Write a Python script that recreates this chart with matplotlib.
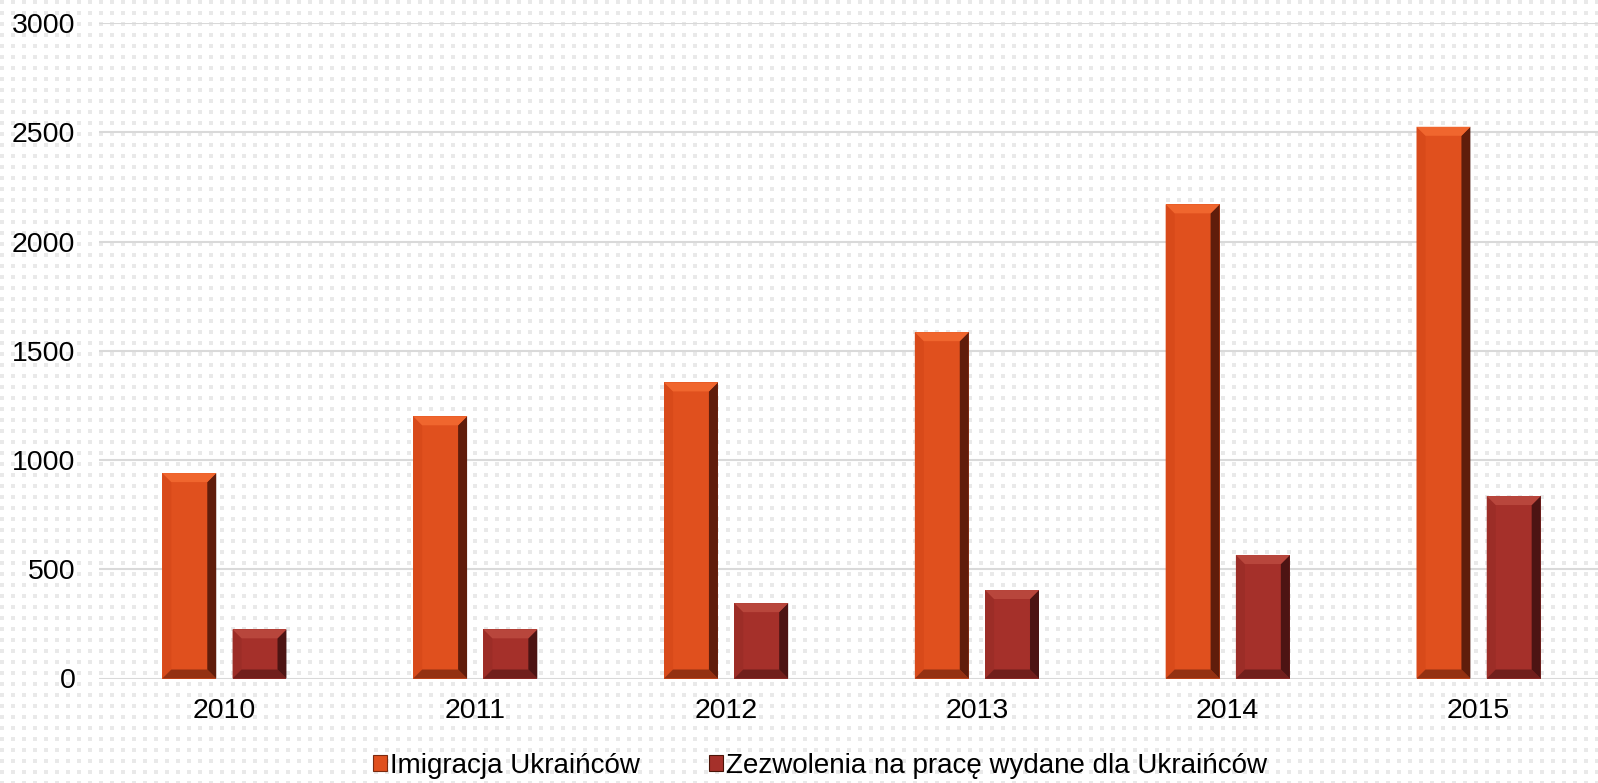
import numpy as np
import matplotlib
matplotlib.use("Agg")
import matplotlib.pyplot as plt
from matplotlib.patches import Patch, Polygon

# data
years = ["2010", "2011", "2012", "2013", "2014", "2015"]
imigracja = [940, 1200, 1355, 1585, 2170, 2525]
zezwolenia = [225, 225, 345, 405, 565, 835]
series_names = ["Imigracja Ukraińców", "Zezwolenia na pracę wydane dla Ukraińców"]
y_ticks = [0, 500, 1000, 1500, 2000, 2500, 3000]

plt.rcParams["font.family"] = ["Liberation Sans", "DejaVu Sans"]

W, H = 1598, 783
fig = plt.figure(figsize=(W / 100, H / 100), dpi=100)
fig.patch.set_facecolor("white")

# dotted background texture
yy, xx = np.mgrid[0:H, 0:W]
dots = ((yy % 11) < 4) & ((xx % 11) < 4)
bg = np.ones((H, W, 3))
bg[dots] = 0.915
fig.figimage(bg, 0, 0, zorder=-10)

ax = fig.add_axes([99 / W, (H - 678.5) / H, 1505 / W, (678.5 - 23) / H])
ax.patch.set_alpha(0)
ax.set_xlim(-0.5, 5.5)
ax.set_ylim(0, 3000)

x = np.arange(len(years))
bw = 0.215
off = 0.14
c1, c2 = "#e0501e", "#a5302a"

bars1 = ax.bar(x - off, imigracja, bw, color=c1, zorder=3)
bars2 = ax.bar(x + off, zezwolenia, bw, color=c2, zorder=3)

# bevel effect, sizes in pixels converted to data units
px_x = 1 / (ax.transData.transform((1, 0))[0] - ax.transData.transform((0, 0))[0])
px_y = 1 / (ax.transData.transform((0, 1))[1] - ax.transData.transform((0, 0))[1])
bx, by = 9 * px_x, 9 * px_y


def bevel(bars, light, dark, side):
    for b in bars:
        x0, w, h = b.get_x(), b.get_width(), b.get_height()
        x1 = x0 + w
        top = [(x0, h), (x1, h), (x1 - bx, h - by), (x0 + bx, h - by)]
        right = [(x1, h), (x1, 0), (x1 - bx, by), (x1 - bx, h - by)]
        bottom = [(x0, 0), (x1, 0), (x1 - bx, by), (x0 + bx, by)]
        left = [(x0, h), (x0, 0), (x0 + bx, by), (x0 + bx, h - by)]
        ax.add_patch(Polygon(left, closed=True, color=side, lw=0, zorder=4))
        ax.add_patch(Polygon(bottom, closed=True, color=dark, lw=0, alpha=0.5, zorder=4))
        ax.add_patch(Polygon(right, closed=True, color=dark, lw=0, alpha=0.85, zorder=5))
        ax.add_patch(Polygon(top, closed=True, color=light, lw=0, zorder=5))


bevel(bars1, "#f0662e", "#4a1408", "#d84a1a")
bevel(bars2, "#b8463c", "#3e1010", "#9c2d27")

ax.set_yticks(y_ticks)
ax.set_yticklabels([str(v) for v in y_ticks])
ax.set_xticks(x)
ax.set_xticklabels(years)
ax.tick_params(axis="y", length=0, pad=17, labelsize=20.5)
ax.tick_params(axis="x", length=0, pad=14, labelsize=20.5)
ax.grid(axis="y", color="#d9d9d9", lw=1.5, zorder=0)
for s in ax.spines.values():
    s.set_visible(False)

handles = [Patch(facecolor=c1, edgecolor="#7a2a10", lw=0.8),
           Patch(facecolor=c2, edgecolor="#4a1408", lw=0.8)]
fig.legend(handles, series_names, loc="center", bbox_to_anchor=(0.513, 0.022),
           ncol=2, frameon=False, fontsize=20, handlelength=0.5, handleheight=0.5,
           handletextpad=0.1, columnspacing=2.5, borderaxespad=0)

fig.savefig("out.png", dpi=100, facecolor="white")
